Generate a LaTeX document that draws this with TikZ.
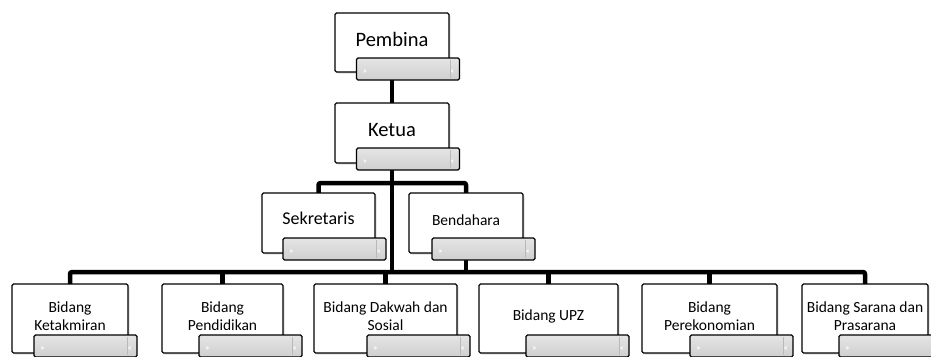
\documentclass[tikz,border=0pt]{standalone}
\usepackage{fontspec}
\setmainfont{Carlito}
\usetikzlibrary{backgrounds,shadows}
\begin{document}
\begin{tikzpicture}[x=1pt,y=-1pt,
  obox/.style={draw=black, line width=1.3pt, fill=white, rounded corners=1.5pt, inner sep=0pt,
    drop shadow={shadow xshift=1.5pt, shadow yshift=-1.5pt, fill=black!30, opacity=0.45}},
  gbar/.style={draw=black, line width=1.3pt, rounded corners=1.5pt, top color=gray!20, bottom color=gray!38,
    minimum width=103pt, minimum height=22pt, inner sep=0pt},
  conn/.style={draw=black, line width=4.5pt, rounded corners=2pt, line join=round},
  big/.style={font=\fontsize{20.5}{24}\selectfont, align=center},
  mid/.style={font=\fontsize{18}{21}\selectfont, align=center},
  small/.style={font=\fontsize{15.5}{18}\selectfont, align=center},
  deco/.style={fill=gray!8, draw=none},
  tick/.style={draw=gray!55, line width=0.6pt}
]
\clip (0,0) rectangle (931,356);

% boxes
\node[obox, minimum width=114pt, minimum height=59pt] (pemb) at (392,42.5) {};
\node[obox, minimum width=114pt, minimum height=60pt] (ketua) at (392,133) {};
\node[obox, minimum width=113pt, minimum height=60pt] (sek) at (318.5,223) {};
\node[obox, minimum width=114pt, minimum height=60pt] (bend) at (466,223) {};
\node[obox, minimum width=116pt, minimum height=69pt] (k1) at (70,318.5) {};
\node[obox, minimum width=121pt, minimum height=69pt] (k2) at (222.5,318.5) {};
\node[obox, minimum width=143pt, minimum height=69pt] (k3) at (385.5,318.5) {};
\node[obox, minimum width=139pt, minimum height=69pt] (k4) at (548.5,318.5) {};
\node[obox, minimum width=135pt, minimum height=69pt] (k5) at (709.5,318.5) {};
\node[obox, minimum width=126pt, minimum height=69pt] (k6) at (865,318.5) {};

% connectors (behind boxes)
\coordinate (rowA) at (392,183);
\coordinate (rowB) at (392,272);
\begin{pgfonlayer}{background}
  \fill[white] (0,0) rectangle (931,356);
  \draw[conn] (pemb.center) -- (ketua.center);
  \draw[conn] (ketua.center) -- (ketua.center |- rowB);
  \draw[conn] (sek.center) -- (sek.center |- rowA) -- (bend.center |- rowA) -- (bend.center);
  \draw[conn] (bend.center) -- (bend.center |- rowB);
  \draw[conn] (k1.center) -- (k1.center |- rowB) -- (k6.center |- rowB) -- (k6.center);
  \draw[conn] (k2.center |- rowB) -- (k2.center);
  \draw[conn] (k3.center |- rowB) -- (k3.center);
  \draw[conn] (k4.center |- rowB) -- (k4.center);
  \draw[conn] (k5.center |- rowB) -- (k5.center);
\end{pgfonlayer}

% texts
\node[big] (pembt) at (392,39) {Pembina};
\node[big] (ketuat) at (392,130) {Ketua};
\node[mid] (sekt) at (318.5,218) {Sekretaris};
\node[small] (bendt) at (466,220) {Bendahara};
\node[small] (k1t) at (70,316) {Bidang\\Ketakmiran};
\node[small] (k2t) at (222.5,316) {Bidang\\Pendidikan};
\node[small] (k3t) at (385.5,316) {Bidang Dakwah dan\\Sosial};
\node[small] (k4t) at (548.5,316) {Bidang UPZ};
\node[small] (k5t) at (709.5,316) {Bidang\\Perekonomian};
\node[small] (k6t) at (865,316) {Bidang Sarana dan\\Prasarana};

% grey bars
\node[gbar] (pembb) at (408,69) {};
\node[gbar] (ketuab) at (408,159) {};
\node[gbar] (sekb) at (334.5,249) {};
\node[gbar] (bendb) at (483.5,249) {};
\node[gbar] (k1b) at (85.5,346) {};
\node[gbar] (k2b) at (250.5,346) {};
\node[gbar] (k3b) at (418.5,346) {};
\node[gbar] (k4b) at (577.5,346) {};
\node[gbar] (k5b) at (741.5,346) {};
\node[gbar] (k6b) at (890.5,346) {};

\foreach \b in {pembb,ketuab,sekb,bendb,k1b,k2b,k3b,k4b,k5b,k6b}{
  \fill[deco] ([xshift=8pt]\b.west) -- ++(3,2) -- ++(-3,2) -- cycle;
  \fill[deco] ([xshift=-7pt]\b.east) -- ++(-3,2) -- ++(3,2) -- cycle;
  \draw[tick] ([xshift=-10pt,yshift=-3pt]\b.north east) -- ([xshift=-10pt,yshift=3pt]\b.south east);
}
\end{tikzpicture}
\end{document}
